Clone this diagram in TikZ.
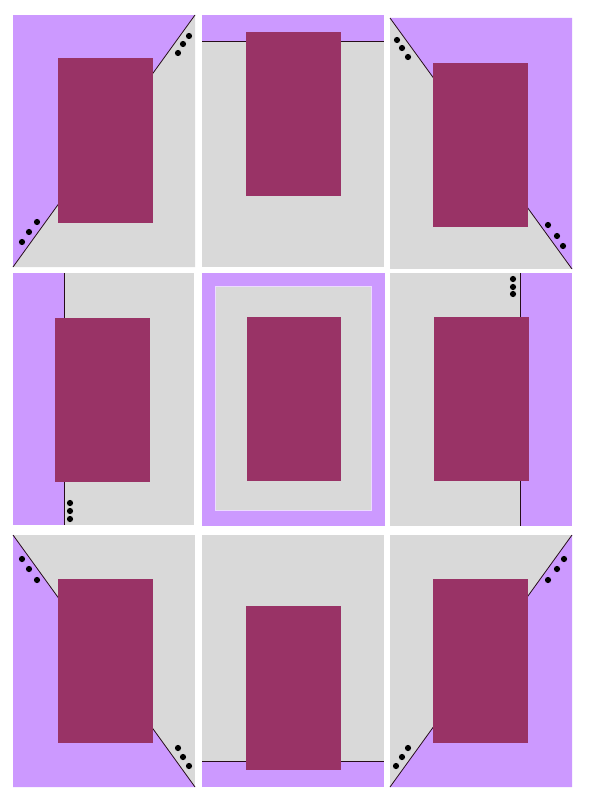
\documentclass[tikz,border=0pt]{standalone}
\usepackage{tikz}
\usetikzlibrary{calc}
\definecolor{lilac}{HTML}{CC99FF}
\definecolor{pale}{HTML}{D9D9D9}
\definecolor{plum}{HTML}{993366}
\tikzset{
	lilacfill/.style={fill=lilac},
	palefill/.style={fill=pale},
	plumfill/.style={fill=plum},
	seam/.style={draw=black!75!plum, line width=0.8pt},
	pip/.style={fill=black},
}
\def\pips(#1)(#2)(#3){\fill[pip] (#1) circle (3.1pt) (#2) circle (3.1pt) (#3) circle (3.1pt);}

\begin{document}
\begin{tikzpicture}[x=1pt, y=-1pt]
			%%%%% START %%%%%
			\fill[white] (0, 0) rectangle (589, 800);
			\useasboundingbox (0, 0) rectangle (589, 800);
			
			% top row
			\fill[lilacfill] (13, 15) rectangle (195, 267);
			\fill[palefill] (13, 267) -- (195, 15) -- (195, 267) -- cycle;
			\draw[seam] (13, 267) -- (195, 15);
			\fill[plumfill] (58, 58) rectangle (153, 223);
			\pips(189, 36)(183, 44)(178, 53)
			\pips(37, 222)(29, 232)(22, 242)
			
			\fill[palefill] (202, 15) rectangle (384, 267);
			\fill[lilacfill] (202, 15) rectangle (384, 41);
			\draw[seam] (202, 41) -- (384, 41);
			\fill[plumfill] (246, 32) rectangle (341, 196);
			
			\fill[palefill] (390, 18) rectangle (572, 269);
			\fill[lilacfill] (390, 18) -- (572, 18) -- (572, 269) -- cycle;
			\draw[seam] (390, 18) -- (572, 269);
			\fill[plumfill] (433, 63) rectangle (528, 227);
			\pips(397, 40)(402, 48)(408, 57)
			\pips(548, 225)(557, 236)(563, 246)
			
			% middle row
			\fill[palefill] (13, 273) rectangle (194, 525);
			\fill[lilacfill] (13, 273) rectangle (64, 525);
			\draw[seam] (64, 273) -- (64, 525);
			\fill[plumfill] (55, 318) rectangle (150, 482);
			\pips(70, 503)(70, 511)(70, 519)
			
			\fill[lilacfill] (202, 273) rectangle (385, 526);
			\filldraw[palefill, draw=lilac!35!white, line width=1pt] (215, 286) rectangle (371, 510);
			\fill[plumfill] (247, 317) rectangle (341, 481);
			
			\fill[palefill] (390, 273) rectangle (572, 526);
			\fill[lilacfill] (520, 273) rectangle (572, 526);
			\draw[seam] (520, 273) -- (520, 526);
			\fill[plumfill] (434, 317) rectangle (529, 481);
			\pips(513, 279)(513, 287)(513, 294)
			
			% bottom row
			\fill[palefill] (13, 535) rectangle (195, 787);
			\fill[lilacfill] (13, 535) -- (195, 787) -- (13, 787) -- cycle;
			\draw[seam] (13, 535) -- (195, 787);
			\fill[plumfill] (58, 579) rectangle (153, 743);
			\pips(22, 559)(29, 569)(37, 580)
			\pips(178, 748)(183, 757)(189, 766)
			
			\fill[palefill] (202, 535) rectangle (384, 787);
			\fill[lilacfill] (202, 761) rectangle (384, 787);
			\draw[seam] (202, 761) -- (384, 761);
			\fill[plumfill] (246, 606) rectangle (341, 770);
			
			\fill[palefill] (390, 535) rectangle (572, 787);
			\fill[lilacfill] (390, 787) -- (572, 535) -- (572, 787) -- cycle;
			\draw[seam] (390, 787) -- (572, 535);
			\fill[plumfill] (433, 579) rectangle (528, 743);
			\pips(564, 559)(557, 569)(548, 580)
			\pips(408, 748)(402, 757)(396, 766)
			
			%%%%% END %%%%%
\end{tikzpicture}
\end{document}
